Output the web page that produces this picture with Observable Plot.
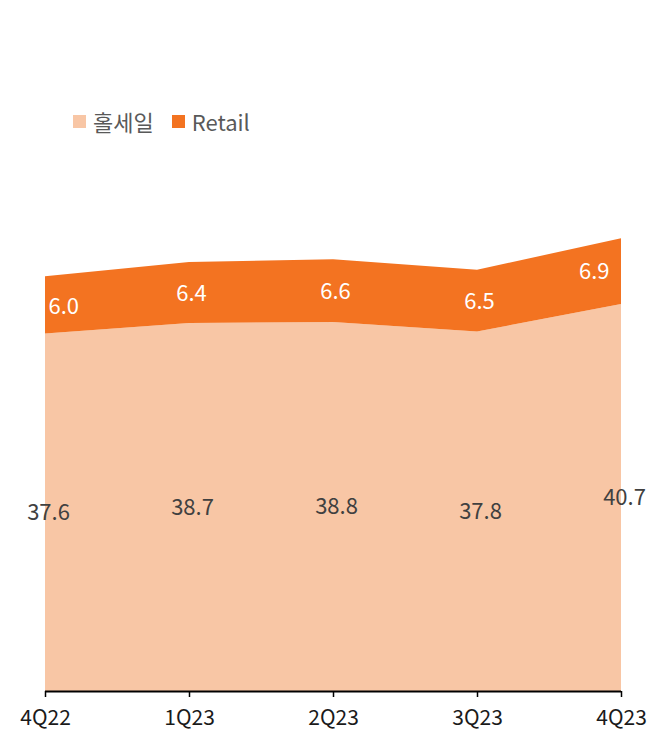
<!DOCTYPE html>
<html>
<head>
<meta charset="utf-8">
<script src="https://cdn.jsdelivr.net/npm/d3@7"></script>
<script src="https://cdn.jsdelivr.net/npm/@observablehq/plot@0.6"></script>
<style>
  body { margin: 0; background: #fff; font-family: "Noto Sans CJK KR", "Noto Sans", sans-serif; }
  #legend { height: 145px; position: relative; box-sizing: border-box; padding-top: 97px; padding-left: 73px; display: flex; align-items: center; }
  .item { display: flex; align-items: center; margin-right: 18px; font-size: 22px; color: #595959; }
  .sw { width: 13px; height: 13px; margin-right: 7px; }
</style>
</head>
<body>
<div id="legend"></div>
<div id="chart"></div>
<script>
const quarters = ["4Q22", "1Q23", "2Q23", "3Q23", "4Q23"];
const seriesNames = ["홀세일", "Retail"];
const wholesale = [37.6, 38.7, 38.8, 37.8, 40.7];
const retail = [6.0, 6.4, 6.6, 6.5, 6.9];
const colors = ["#F8C6A5", "#F37321"];

const data = [];
quarters.forEach((q, i) => {
  data.push({q, series: seriesNames[0], value: wholesale[i], mid: wholesale[i] / 2, i});
  data.push({q, series: seriesNames[1], value: retail[i], mid: wholesale[i] + retail[i] / 2, i});
});

const legend = document.getElementById("legend");
seriesNames.forEach((s, k) => {
  const it = document.createElement("div");
  it.className = "item";
  it.innerHTML = `<span class="sw" style="background:${colors[k]}"></span><span>${s}</span>`;
  legend.appendChild(it);
});

const n = quarters.length;
const ret = data.filter(d => d.series === "Retail");
const whs = data.filter(d => d.series === "홀세일");
const labelFont = {fontSize: 22, fontFamily: "Noto Sans CJK KR, Noto Sans, sans-serif"};

const chart = Plot.plot({
  width: 648,
  height: 590,
  marginLeft: 45,
  marginRight: 27,
  marginTop: 70.5,
  marginBottom: 44,
  style: {fontFamily: "Noto Sans CJK KR, Noto Sans, sans-serif", background: "#fff", overflow: "visible"},
  x: {type: "point", domain: quarters, padding: 0, label: null},
  y: {domain: [0, 50], axis: null},
  color: {domain: seriesNames, range: colors},
  marks: [
    Plot.areaY(data, Plot.stackY({x: "q", y: "value", fill: "series", z: "series", order: seriesNames, curve: "linear"})),
    Plot.ruleY([0], {stroke: "#000", strokeWidth: 2}),
    Plot.axisX({tickSize: 6, tickPadding: 13, fontSize: 21, stroke: "#000", strokeWidth: 1.5, color: "#1a1a1a", label: null}),
    Plot.text(whs, {x: "q", y: "mid", text: d => d.value.toFixed(1), fill: "#404040", dx: 3, ...labelFont}),
    Plot.text(ret.filter(d => d.i > 0 && d.i < n - 1), {x: "q", y: "mid", text: d => d.value.toFixed(1), fill: "#fff", dx: 2, dy: 1, ...labelFont}),
    Plot.text(ret.filter(d => d.i === 0), {x: "q", y: "mid", text: d => d.value.toFixed(1), fill: "#fff", textAnchor: "start", dx: 3, dy: 2, ...labelFont}),
    Plot.text(ret.filter(d => d.i === n - 1), {x: "q", y: "mid", text: d => d.value.toFixed(1), fill: "#fff", textAnchor: "end", dx: -12, dy: 0, ...labelFont})
  ]
});
document.getElementById("chart").appendChild(chart);
</script>
</body>
</html>
